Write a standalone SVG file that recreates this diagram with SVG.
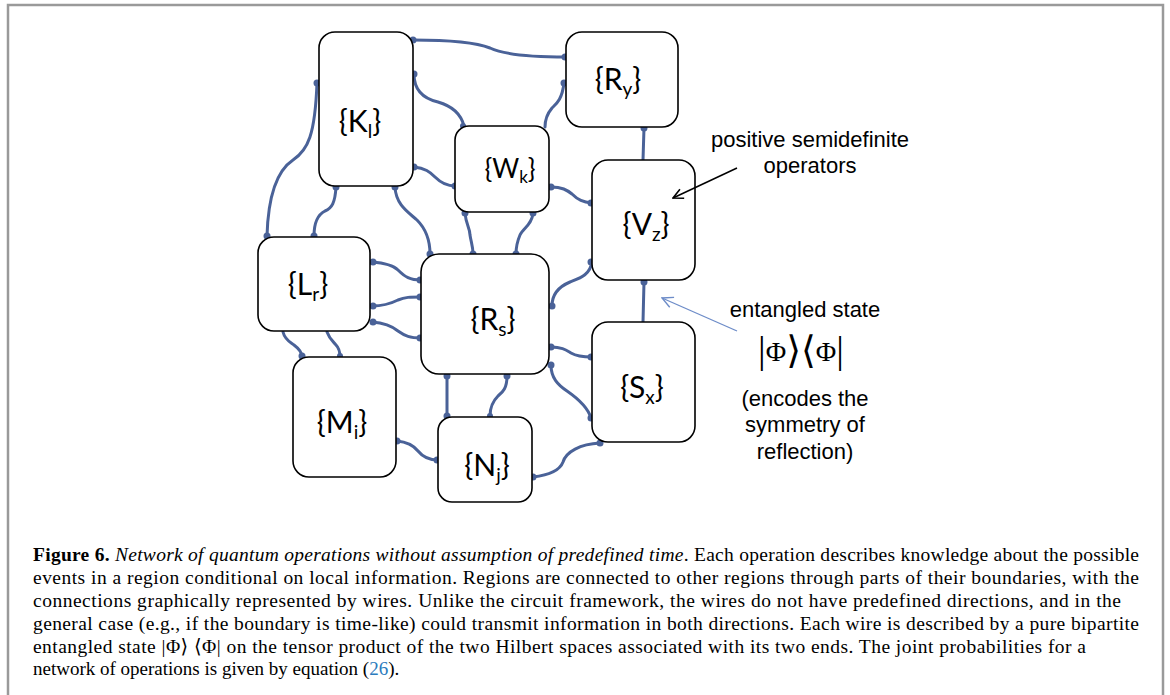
<svg xmlns="http://www.w3.org/2000/svg" width="1170" height="695" viewBox="0 0 1170 695">
<style>
.node{fill:#fff;stroke:#000;stroke-width:1.6}
.lbl{font-family:Lato,"Open Sans",sans-serif;font-size:30px;fill:#000;text-anchor:middle}
.sub{font-size:19px}
.wire{fill:none;stroke:#4a6298;stroke-width:3;stroke-linecap:round}
.dot{fill:#4a6298}
.ann{font-family:"Liberation Sans",Arial,sans-serif;font-size:22px;fill:#000;text-anchor:middle}
.cap{font-family:"Liberation Serif","DejaVu Serif",serif;font-size:19.5px;fill:#000}
</style>
<defs>
<marker id="ab" viewBox="0 0 12 12" refX="11" refY="6" markerWidth="12" markerHeight="12" markerUnits="userSpaceOnUse" orient="auto"><path d="M1,1 L11,6 L1,11" fill="none" stroke="#000" stroke-width="1.6"/></marker>
<marker id="al" viewBox="0 0 12 12" refX="11" refY="6" markerWidth="13" markerHeight="13" markerUnits="userSpaceOnUse" orient="auto"><path d="M1,1 L11,6 L1,11" fill="none" stroke="#6d8cc8" stroke-width="1.3"/></marker>
</defs>
<rect width="1170" height="695" fill="#fff"/>
<path d="M8,695 V5 H1163 V695" fill="none" stroke="#9a9a9a" stroke-width="2.5"/>
<g id="connectors">
<path class="wire" d="M413,40 C445,40 475,42 490,48 C505,55 530,57 566,57"/>
<path class="wire" d="M414,74 C414,92 425,99 438,102 C452,106 461,114 464,126"/>
<path class="wire" d="M564,83 C562,100 556,104 552,108 C547,114 545,121 545,127"/>
<path class="wire" d="M644,128 L643,160"/>
<path class="wire" d="M317,83 C315,135 308,150 293,160 C275,172 268,200 267,236"/>
<path class="wire" d="M336,187 C335,203 332,208 325,211 C317,215 314,225 314,236"/>
<path class="wire" d="M395,187 C396,205 408,212 417,220 C425,228 430,240 430,254"/>
<path class="wire" d="M414,167 C425,168 430,172 435,177 C440,182 446,186 455,186"/>
<path class="wire" d="M551,187 C562,187 567,190 572,194 C578,200 583,202 592,203"/>
<path class="wire" d="M465,213 C466,225 470,228 470,235 C471,242 473,246 473,254"/>
<path class="wire" d="M533,213 C532,225 523,228 520,235 C517,242 516,246 516,254"/>
<path class="wire" d="M372,262 C385,263 393,265 398,270 C405,277 410,280 421,280"/>
<path class="wire" d="M372,306 C385,306 392,303 398,300 C405,297 410,297 421,297"/>
<path class="wire" d="M372,322 C385,323 392,326 398,331 C405,336 410,338 421,338"/>
<path class="wire" d="M283,332 C285,340 290,342 294,345 C298,348 302,352 302,357"/>
<path class="wire" d="M327,332 C330,340 334,342 336,345 C339,348 340,352 340,357"/>
<path class="wire" d="M592,262 C590,275 580,278 570,282 C558,287 552,295 552,306"/>
<path class="wire" d="M644,282 L643,322"/>
<path class="wire" d="M551,347 C562,347 566,350 571,353 C576,356 582,357 592,357"/>
<path class="wire" d="M551,365 C551,378 558,385 567,391 C580,400 588,408 591,418"/>
<path class="wire" d="M447,376 L447,416"/>
<path class="wire" d="M507,376 C507,388 503,392 498,396 C493,401 490,408 490,416"/>
<path class="wire" d="M397,441 C408,442 414,446 418,451 C422,456 428,460 438,460"/>
<path class="wire" d="M533,477 C550,475 560,470 563,462 C566,452 580,444 600,443"/>
<g class="dot">
<circle cx="413" cy="40" r="3.5"/><circle cx="565" cy="57" r="3.5"/>
<circle cx="414" cy="74" r="3.5"/><circle cx="463" cy="126" r="3"/>
<circle cx="564" cy="83" r="3.5"/>
<circle cx="644" cy="128" r="3.5"/>
<circle cx="317" cy="83" r="3.5"/><circle cx="267" cy="236" r="3.5"/>
<circle cx="336" cy="187" r="3.5"/><circle cx="314" cy="236" r="3.5"/>
<circle cx="395" cy="187" r="3.5"/><circle cx="430" cy="254" r="3.5"/>
<circle cx="414" cy="167" r="3.5"/><circle cx="455" cy="186" r="3.5"/>
<circle cx="551" cy="187" r="3.5"/><circle cx="591" cy="203" r="3.5"/>
<circle cx="465" cy="213" r="3.5"/><circle cx="473" cy="254" r="3.5"/>
<circle cx="533" cy="213" r="3.5"/><circle cx="516" cy="254" r="3.5"/>
<circle cx="373" cy="262" r="3.5"/><circle cx="420" cy="280" r="3.5"/>
<circle cx="373" cy="306" r="3.5"/><circle cx="420" cy="297" r="3.5"/>
<circle cx="373" cy="322" r="3.5"/><circle cx="420" cy="338" r="3.5"/>
<circle cx="302" cy="356" r="3.5"/><circle cx="340" cy="356" r="3"/>
<circle cx="591" cy="262" r="3.5"/><circle cx="552" cy="306" r="3.5"/>
<circle cx="644" cy="282" r="3.5"/>
<circle cx="551" cy="347" r="3.5"/><circle cx="591" cy="357" r="3.5"/>
<circle cx="551" cy="365" r="3.5"/><circle cx="591" cy="418" r="3.5"/>
<circle cx="447" cy="376" r="3.5"/><circle cx="447" cy="416" r="3.5"/>
<circle cx="507" cy="376" r="3.5"/><circle cx="490" cy="416" r="3"/>
<circle cx="397" cy="441" r="3.5"/><circle cx="437" cy="460" r="3.5"/>
<circle cx="533" cy="477" r="3.5"/><circle cx="600" cy="443" r="3.5"/>
</g>
</g>
<g id="K"><rect class="node" x="319" y="32" width="94" height="154" rx="16"/><text class="lbl" x="360" y="132">{K<tspan class="sub" dy="6">l</tspan><tspan dy="-6">}</tspan></text></g>
<g id="Ry"><rect class="node" x="566" y="32" width="112" height="95" rx="16"/><text class="lbl" x="618" y="90">{R<tspan class="sub" dy="6">y</tspan><tspan dy="-6">}</tspan></text></g>
<g id="Wk"><rect class="node" x="455" y="126" width="94" height="86" rx="14"/><text class="lbl" x="510" y="178" style="font-size:26px">{W<tspan class="sub" dy="5" style="font-size:17px">k</tspan><tspan dy="-5">}</tspan></text></g>
<g id="Vz"><rect class="node" x="592" y="160" width="103" height="120" rx="16"/><text class="lbl" x="646" y="235">{V<tspan class="sub" dy="6">z</tspan><tspan dy="-6">}</tspan></text></g>
<g id="Lr"><rect class="node" x="258" y="237" width="112" height="94" rx="16"/><text class="lbl" x="308" y="295">{L<tspan class="sub" dy="6">r</tspan><tspan dy="-6">}</tspan></text></g>
<g id="Rs"><rect class="node" x="421" y="254" width="128" height="120" rx="18"/><text class="lbl" x="493" y="330">{R<tspan class="sub" dy="6">s</tspan><tspan dy="-6">}</tspan></text></g>
<g id="Sx"><rect class="node" x="592" y="322" width="103" height="120" rx="16"/><text class="lbl" x="642" y="398">{S<tspan class="sub" dy="6">x</tspan><tspan dy="-6">}</tspan></text></g>
<g id="Mi"><rect class="node" x="293" y="357" width="103" height="120" rx="16"/><text class="lbl" x="342" y="433">{M<tspan class="sub" dy="6">i</tspan><tspan dy="-6">}</tspan></text></g>
<g id="Nj"><rect class="node" x="438" y="417" width="94" height="85" rx="14"/><text class="lbl" x="487" y="476">{N<tspan class="sub" dy="6">j</tspan><tspan dy="-6">}</tspan></text></g>
<g id="annotations">
<text class="ann" x="810" y="147">positive semidefinite</text>
<text class="ann" x="810" y="173">operators</text>
<line x1="737" y1="168" x2="673" y2="198" stroke="#000" stroke-width="1.5" marker-end="url(#ab)"/>
<text class="ann" x="805" y="317">entangled state</text>
<text x="801" y="361" style="font-family:'Liberation Serif','DejaVu Serif',serif;font-size:28px;text-anchor:middle"><tspan style="font-size:38px" dy="2">|</tspan><tspan dy="-2">Φ</tspan><tspan style="font-size:38px;font-family:'DejaVu Serif',serif" dy="2">⟩⟨</tspan><tspan dy="-2">Φ</tspan><tspan style="font-size:38px" dy="2">|</tspan></text>
<line x1="737" y1="331" x2="662" y2="298" stroke="#6d8cc8" stroke-width="1.3" marker-end="url(#al)"/>
<text class="ann" x="805" y="406">(encodes the</text>
<text class="ann" x="805" y="432">symmetry of</text>
<text class="ann" x="805" y="459">reflection)</text>
</g>
<g id="caption">
<text class="cap" x="33" y="561" textLength="1106" lengthAdjust="spacing"><tspan font-weight="bold">Figure 6.</tspan> <tspan font-style="italic">Network of quantum operations without assumption of predefined time</tspan>. Each operation describes knowledge about the possible</text>
<text class="cap" x="33" y="584" textLength="1106" lengthAdjust="spacing">events in a region conditional on local information. Regions are connected to other regions through parts of their boundaries, with the</text>
<text class="cap" x="33" y="607" textLength="1088" lengthAdjust="spacing">connections graphically represented by wires. Unlike the circuit framework, the wires do not have predefined directions, and in the</text>
<text class="cap" x="33" y="630" textLength="1106" lengthAdjust="spacing">general case (e.g., if the boundary is time-like) could transmit information in both directions. Each wire is described by a pure bipartite</text>
<text class="cap" x="33" y="653" textLength="1053" lengthAdjust="spacing">entangled state |Φ⟩ ⟨Φ| on the tensor product of the two Hilbert spaces associated with its two ends. The joint probabilities for a</text>
<text class="cap" x="33" y="675" style="font-size:19px">network of operations is given by equation (<tspan fill="#2b7bbd">26</tspan>).</text>
</g>
</svg>
